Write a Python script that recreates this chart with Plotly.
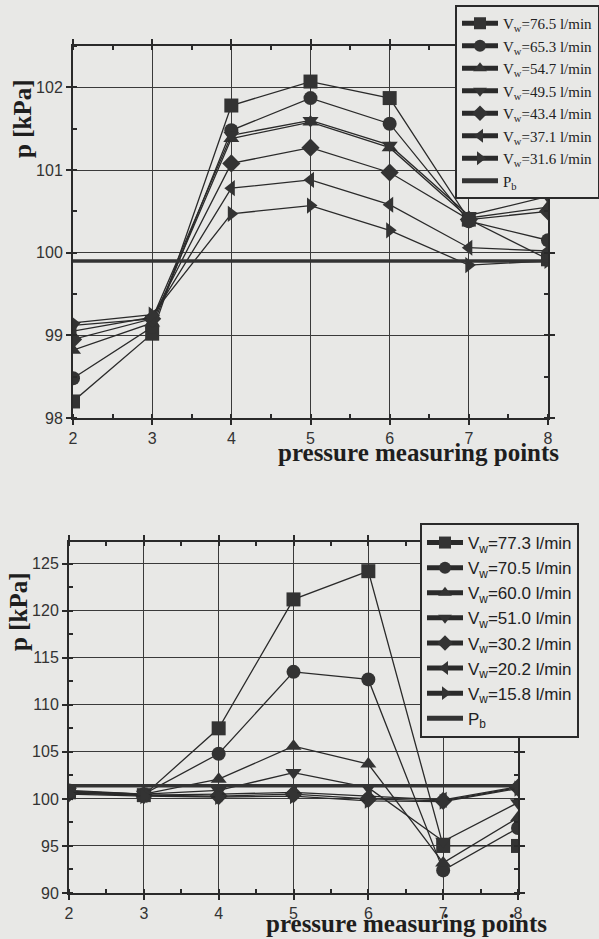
import plotly.graph_objects as go

x_pts = [2, 3, 4, 5, 6, 7, 8]

# Top chart
top_names = ["V<sub>w</sub>=76.5 l/min", "V<sub>w</sub>=65.3 l/min", "V<sub>w</sub>=54.7 l/min",
             "V<sub>w</sub>=49.5 l/min", "V<sub>w</sub>=43.4 l/min", "V<sub>w</sub>=37.1 l/min",
             "V<sub>w</sub>=31.6 l/min"]
top_square = [98.2, 99.02, 101.78, 102.07, 101.87, 100.40, 99.92]
top_circle = [98.48, 99.10, 101.48, 101.87, 101.56, 100.38, 100.15]
top_up = [98.82, 99.15, 101.38, 101.58, 101.27, 100.42, 100.55]
top_down = [99.12, 99.20, 101.42, 101.60, 101.30, 100.45, 100.68]
top_diamond = [98.95, 99.20, 101.08, 101.27, 100.97, 100.40, 100.50]
top_left = [99.05, 99.22, 100.78, 100.88, 100.58, 100.06, 100.02]
top_right = [99.15, 99.25, 100.47, 100.57, 100.27, 99.85, 99.90]
top_pb = 99.9

# Bottom chart
bot_names = ["V<sub>w</sub>=77.3 l/min", "V<sub>w</sub>=70.5 l/min", "V<sub>w</sub>=60.0 l/min",
             "V<sub>w</sub>=51.0 l/min", "V<sub>w</sub>=30.2 l/min", "V<sub>w</sub>=20.2 l/min",
             "V<sub>w</sub>=15.8 l/min"]
bot_square = [100.7, 100.4, 107.5, 121.2, 124.2, 95.0, 95.0]
bot_circle = [100.9, 100.5, 104.8, 113.5, 112.7, 92.4, 96.9]
bot_up = [100.8, 100.5, 102.1, 105.6, 103.7, 93.2, 98.0]
bot_down = [100.8, 100.5, 100.9, 102.8, 101.2, 95.5, 99.6]
bot_diamond = [100.6, 100.4, 100.3, 100.5, 100.0, 99.8, 101.2]
bot_left = [100.7, 100.4, 100.5, 100.7, 100.3, 99.9, 101.3]
bot_right = [100.5, 100.3, 100.2, 100.3, 99.8, 99.7, 101.1]
bot_pb = 101.4

symbols = ["square", "circle", "triangle-up", "triangle-down", "diamond", "triangle-left", "triangle-right"]

BG = "#e8e8e6"
INK = "#2a2a2a"
W, H = 599, 939

fig = go.Figure()

top_series = [top_square, top_circle, top_up, top_down, top_diamond, top_left, top_right]
bot_series = [bot_square, bot_circle, bot_up, bot_down, bot_diamond, bot_left, bot_right]

for name, ys, sym in zip(top_names, top_series, symbols):
    fig.add_trace(go.Scatter(x=x_pts, y=ys, name=name, mode="lines+markers",
                             line=dict(color=INK, width=1.3),
                             marker=dict(symbol=sym, size=14, color="#333333"),
                             xaxis="x", yaxis="y", legend="legend"))
fig.add_trace(go.Scatter(x=[2, 8], y=[top_pb, top_pb], name="P<sub>b</sub>", mode="lines",
                         line=dict(color="#333333", width=3.5),
                         xaxis="x", yaxis="y", legend="legend"))

for name, ys, sym in zip(bot_names, bot_series, symbols):
    fig.add_trace(go.Scatter(x=x_pts, y=ys, name=name, mode="lines+markers",
                             line=dict(color=INK, width=1.3),
                             marker=dict(symbol=sym, size=14, color="#333333"),
                             xaxis="x2", yaxis="y2", legend="legend2"))
fig.add_trace(go.Scatter(x=[2, 8], y=[bot_pb, bot_pb], name="P<sub>b</sub>", mode="lines",
                         line=dict(color="#333333", width=3.5),
                         xaxis="x2", yaxis="y2", legend="legend2"))

tickfont = dict(family="Liberation Sans, Arial, sans-serif", size=16, color="#333333")

def xax(domain, anchor):
    return dict(domain=domain, anchor=anchor, range=[2, 8], dtick=1, tick0=2,
                automargin=False,
                showgrid=True, gridcolor="#3a3a3a", gridwidth=1.3,
                showline=True, linecolor=INK, linewidth=2, mirror="ticks",
                ticks="outside", ticklen=5, tickcolor=INK, tickwidth=1.5,
                minor=dict(dtick=0.5, ticks="inside", ticklen=4, tickcolor=INK, showgrid=False),
                tickfont=tickfont, zeroline=False)

def yax(domain, anchor, rng, dtick, minor):
    return dict(domain=domain, anchor=anchor, range=rng, dtick=dtick,
                automargin=False,
                showgrid=True, gridcolor="#3a3a3a", gridwidth=1.3,
                showline=True, linecolor=INK, linewidth=2, mirror="ticks",
                ticks="outside", ticklen=5, tickcolor=INK, tickwidth=1.5,
                minor=dict(dtick=minor, ticks="inside", ticklen=4, tickcolor=INK, showgrid=False),
                tickfont=tickfont, zeroline=False)

legfont = dict(family="Liberation Serif, Times New Roman, serif", size=15, color="#222222")
legfont2 = dict(family="Liberation Sans, Arial, sans-serif", size=17, color="#222222")

fig.update_layout(
    width=W, height=H,
    margin=dict(l=0, r=0, t=0, b=0, autoexpand=False),
    paper_bgcolor=BG, plot_bgcolor=BG,
    showlegend=True,
    xaxis=xax([73 / W, 548 / W], "y"),
    yaxis=yax([1 - 418 / H, 1 - 46 / H], "x", [98, 102.5], 1, 0.5),
    xaxis2=xax([69 / W, 518 / W], "y2"),
    yaxis2=yax([1 - 893 / H, 1 - 542 / H], "x2", [90, 127.3], 5, 2.5),
    legend=dict(x=455 / W, y=1 - 5 / H, xanchor="left", yanchor="top",
                bgcolor=BG, bordercolor=INK, borderwidth=2, font=legfont,
                itemwidth=36, itemsizing="constant", tracegroupgap=0),
    legend2=dict(x=420 / W, y=1 - 523 / H, xanchor="left", yanchor="top",
                 bgcolor=BG, bordercolor=INK, borderwidth=2, font=legfont2,
                 itemwidth=36, itemsizing="constant", tracegroupgap=0),
)

titlefont = dict(family="Liberation Serif, Times New Roman, serif", size=25, color="#1e1e1e")
fig.add_annotation(text="<b>pressure measuring points</b>", x=418 / W, y=1 - 452 / H,
                   xref="paper", yref="paper", showarrow=False, font=titlefont,
                   xanchor="center", yanchor="middle")
fig.add_annotation(text="<b>pressure measuring points</b>", x=406 / W, y=1 - 923 / H,
                   xref="paper", yref="paper", showarrow=False, font=titlefont,
                   xanchor="center", yanchor="middle")
fig.add_annotation(text="<b>p [kPa]</b>", x=22 / W, y=1 - 119 / H, textangle=-90,
                   xref="paper", yref="paper", showarrow=False, font=titlefont,
                   xanchor="center", yanchor="middle")
fig.add_annotation(text="<b>p [kPa]</b>", x=18 / W, y=1 - 612 / H, textangle=-90,
                   xref="paper", yref="paper", showarrow=False, font=titlefont,
                   xanchor="center", yanchor="middle")

fig.write_html("out.html")
